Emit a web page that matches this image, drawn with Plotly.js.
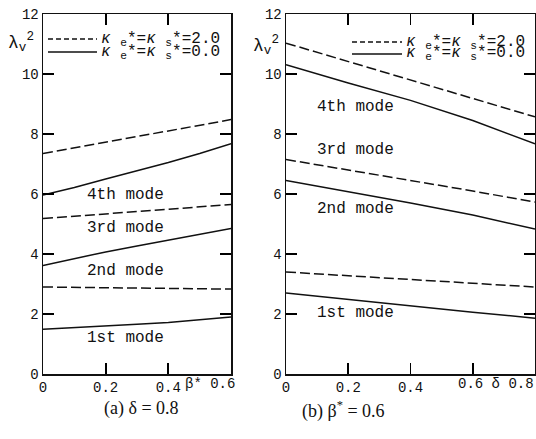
<!DOCTYPE html>
<html>
<head>
<meta charset="utf-8">
<script src="https://cdn.plot.ly/plotly-3.0.1.min.js"></script>
<style>html,body{margin:0;padding:0;background:#fff}#chart{width:536px;height:439px}</style>
</head>
<body>
<div id="chart"></div>
<script>
// ---- data: panel (a) delta = 0.8, x = beta*
const xA = [0, 0.1, 0.2, 0.3, 0.4, 0.5, 0.6];
const a_dash1 = [7.35, 7.54, 7.73, 7.92, 8.11, 8.30, 8.48];
const a_solid1 = [5.97, 6.22, 6.50, 6.77, 7.05, 7.35, 7.68];
const a_dash2 = [5.18, 5.26, 5.33, 5.41, 5.49, 5.57, 5.65];
const a_solid2 = [3.62, 3.85, 4.07, 4.27, 4.47, 4.66, 4.85];
const a_dash3 = [2.90, 2.89, 2.88, 2.87, 2.85, 2.84, 2.83];
const a_solid3 = [1.49, 1.54, 1.60, 1.66, 1.72, 1.80, 1.90];

// ---- data: panel (b) beta* = 0.6, x = delta
const xB = [0, 0.2, 0.4, 0.6, 0.8];
const b_dash1 = [11.03, 10.42, 9.80, 9.18, 8.57];
const b_solid1 = [10.31, 9.70, 9.12, 8.45, 7.67];
const b_dash2 = [7.15, 6.80, 6.47, 6.10, 5.73];
const b_solid2 = [6.45, 6.08, 5.70, 5.30, 4.83];
const b_dash3 = [3.40, 3.28, 3.15, 3.02, 2.90];
const b_solid3 = [2.70, 2.48, 2.27, 2.06, 1.86];

// ---- ticks and labels
const yTicks = [0, 2, 4, 6, 8, 10, 12];
const xTicksA = [0, 0.2, 0.4];
const xTickTextA = ['0', '0.2', '0.4'];
const xLastA = {x: 0.6, text: 'β* 0.6'};
const xTicksB = [0, 0.2, 0.4, 0.6];
const xTickTextB = ['0', '0.2', '0.4', ' '];
const xLastB = {x: 0.8, text: '0.6 δ 0.8'};
const modeNames = ['4th mode', '3rd mode', '2nd mode', '1st mode'];
const modePosA = [[0.134, 5.97], [0.134, 4.88], [0.134, 3.43], [0.134, 1.19]];
const modePosB = [[0.093, 8.90], [0.093, 7.47], [0.093, 5.50], [0.093, 2.03]];
const legendText = ['<i>κ</i> <sub>e</sub>*=<i>κ</i> <sub>s</sub>*=2.0',
                    '<i>κ</i> <sub>e</sub>*=<i>κ</i> <sub>s</sub>*=0.0'];
const captions = ['(a) δ = 0.8', '(b) β<sup>*</sup> = 0.6'];

const INK = '#111';
const MONO = 'Liberation Mono, DejaVu Sans Mono, monospace';
const DASH = '10px,4px';
const LW = 1.5;
const W = 536, H = 439;
const px = v => v / W, py = v => 1 - v / H;

function tr(x, y, dashed, xa, ya) {
  return {x: x, y: y, type: 'scatter', mode: 'lines', xaxis: xa, yaxis: ya, showlegend: false,
    hoverinfo: 'skip', line: {color: INK, width: LW, dash: dashed ? DASH : 'solid'}};
}
const data = [
  tr(xA, a_dash1, true, 'x', 'y'), tr(xA, a_solid1, false, 'x', 'y'),
  tr(xA, a_dash2, true, 'x', 'y'), tr(xA, a_solid2, false, 'x', 'y'),
  tr(xA, a_dash3, true, 'x', 'y'), tr(xA, a_solid3, false, 'x', 'y'),
  tr(xB, b_dash1, true, 'x2', 'y2'), tr(xB, b_solid1, false, 'x2', 'y2'),
  tr(xB, b_dash2, true, 'x2', 'y2'), tr(xB, b_solid2, false, 'x2', 'y2'),
  tr(xB, b_dash3, true, 'x2', 'y2'), tr(xB, b_solid3, false, 'x2', 'y2')
];

const yDom = [py(374), py(14)];
function xax(dom, range, tv, tt, anchor) {
  return {domain: dom, range: range, anchor: anchor, tickvals: tv, ticktext: tt,
    ticks: 'inside', ticklen: 11, tickwidth: 1.8, tickcolor: '#000',
    showline: true, linecolor: INK, linewidth: LW, mirror: 'ticks',
    showgrid: false, zeroline: false,
    tickfont: {family: MONO, size: 14, color: INK}};
}
function yax(anchor) {
  return {domain: yDom, range: [0, 12], anchor: anchor, tickvals: yTicks,
    ticks: 'inside', ticklen: 11, tickwidth: 1.8, tickcolor: '#000',
    showline: true, linecolor: INK, linewidth: LW, mirror: 'ticks',
    showgrid: false, zeroline: false,
    tickfont: {family: MONO, size: 14, color: INK}};
}

const shapes = [];
const ann = [];
modeNames.forEach((n, i) => {
  ann.push({xref: 'x', yref: 'y', x: modePosA[i][0], y: modePosA[i][1], text: n, showarrow: false,
    xanchor: 'left', yanchor: 'middle', font: {family: MONO, size: 16, color: INK}});
  ann.push({xref: 'x2', yref: 'y2', x: modePosB[i][0], y: modePosB[i][1], text: n, showarrow: false,
    xanchor: 'left', yanchor: 'middle', font: {family: MONO, size: 16, color: INK}});
});
ann.push({xref: 'x', yref: 'paper', x: xLastA.x, y: py(384), text: xLastA.text, showarrow: false,
  xanchor: 'right', yanchor: 'middle', xshift: 6, font: {family: MONO, size: 14, color: INK}});
ann.push({xref: 'x2', yref: 'paper', x: xLastB.x, y: py(384), text: xLastB.text, showarrow: false,
  xanchor: 'right', yanchor: 'middle', xshift: 1, font: {family: MONO, size: 14, color: INK}});
// y-axis titles
ann.push({xref: 'paper', yref: 'paper', x: px(21), y: py(42), text: 'λ<sub>v</sub><sup>2</sup>', showarrow: false,
  xanchor: 'center', yanchor: 'middle', font: {family: MONO, size: 18, color: INK}});
ann.push({xref: 'paper', yref: 'paper', x: px(266), y: py(45), text: 'λ<sub>v</sub><sup>2</sup>', showarrow: false,
  xanchor: 'center', yanchor: 'middle', font: {family: MONO, size: 18, color: INK}});
// legends
const legA = {x0: 48, x1: 97, tx: 99, y: [39, 52]};
const legB = {x0: 352, x1: 402, tx: 404, y: [42, 54]};
[legA, legB].forEach(L => {
  [0, 1].forEach(k => {
    shapes.push({type: 'line', xref: 'paper', yref: 'paper', x0: px(L.x0), x1: px(L.x1), y0: py(L.y[k]), y1: py(L.y[k]),
      line: {color: INK, width: LW, dash: k === 0 ? '5px,3px' : 'solid'}});
    ann.push({xref: 'paper', yref: 'paper', x: px(L.tx), y: py(L.y[k]), text: legendText[k], showarrow: false,
      xanchor: 'left', yanchor: 'middle', font: {family: MONO, size: 16, color: INK}});
  });
});
// captions
ann.push({xref: 'paper', yref: 'paper', x: px(141), y: py(408), text: captions[0], showarrow: false,
  xanchor: 'center', yanchor: 'middle', font: {family: 'Liberation Serif, Times New Roman, serif', size: 18, color: INK}});
ann.push({xref: 'paper', yref: 'paper', x: px(343), y: py(410), text: captions[1], showarrow: false,
  xanchor: 'center', yanchor: 'middle', font: {family: 'Liberation Serif, Times New Roman, serif', size: 18, color: INK}});

const layout = {
  width: W, height: H, margin: {l: 0, r: 0, t: 0, b: 0}, paper_bgcolor: '#fff', plot_bgcolor: '#fff',
  showlegend: false,
  xaxis: xax([px(43), px(231)], [0, 0.6], xTicksA, xTickTextA, 'y'),
  yaxis: yax('x'),
  xaxis2: xax([px(286), px(535)], [0, 0.8], xTicksB, xTickTextB, 'y2'),
  yaxis2: yax('x2'),
  annotations: ann, shapes: shapes
};
Plotly.newPlot('chart', data, layout, {staticPlot: true, displayModeBar: false});
</script>
</body>
</html>
